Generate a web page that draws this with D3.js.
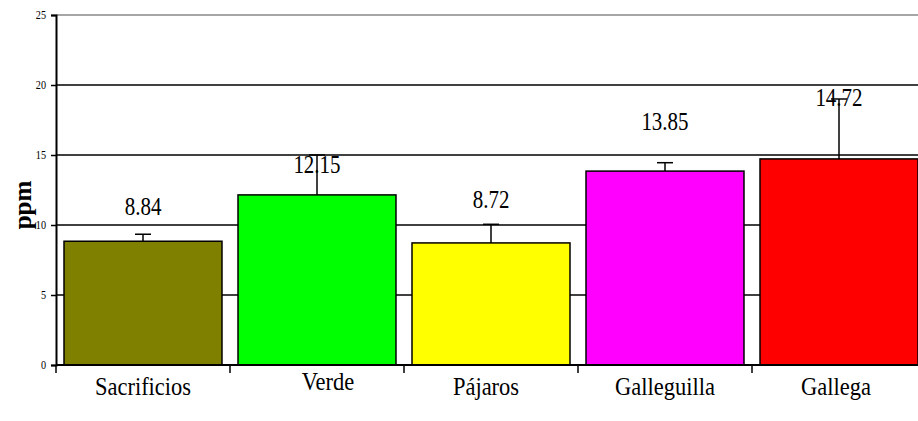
<!DOCTYPE html>
<html>
<head>
<meta charset="utf-8">
<script src="https://cdn.jsdelivr.net/npm/d3@7"></script>
<style>
  html, body { margin: 0; padding: 0; background: #fff; }
  svg { display: block; }
</style>
</head>
<body>
<svg id="chart" width="918" height="421"></svg>
<script>
// ---- data ----
const categories = ["Sacrificios", "Verde", "Pájaros", "Galleguilla", "Gallega"];
const values = [8.84, 12.15, 8.72, 13.85, 14.72];
const errors = [0.5, 2.85, 1.33, 0.6, 4.28];
const colors = ["#808000", "#00ff00", "#ffff00", "#ff00ff", "#ff0000"];
const yTicks = [0, 5, 10, 15, 20, 25];
const yTitle = "ppm";

// ---- layout ----
const FONT = "'Liberation Serif', 'Times New Roman', Tinos, serif";
const W = 918, H = 421;
const svg = d3.select("#chart");
const x = d3.scaleBand().domain(categories).range([56, 926]).paddingInner(0.092).paddingOuter(0.046);
const y = d3.scaleLinear().domain([0, 25]).range([365, 15]);
const labelLift = [26, 22, 35, 41, 53];   // px above bar top for value labels
const catDx = [0, 11, -5, 0, -3];
const catDy = [0, -5, 0, 0, 0];

// gridlines
svg.append("g").selectAll("line").data(yTicks.filter(d => d > 0)).join("line")
  .attr("x1", 56).attr("x2", W)
  .attr("y1", d => y(d)).attr("y2", d => y(d))
  .attr("stroke", d => d === 25 ? "#888" : "#000").attr("stroke-width", 1.5);

// bars
svg.append("g").selectAll("rect").data(categories).join("rect")
  .attr("x", d => x(d)).attr("width", x.bandwidth())
  .attr("y", (d, i) => y(values[i])).attr("height", (d, i) => y(0) - y(values[i]))
  .attr("fill", (d, i) => colors[i]).attr("stroke", "#000").attr("stroke-width", 1.5);

// error bars
const eg = svg.append("g").attr("stroke", "#000").attr("stroke-width", 1.5);
categories.forEach((c, i) => {
  const cx = x(c) + x.bandwidth() / 2;
  eg.append("line").attr("x1", cx).attr("x2", cx).attr("y1", y(values[i])).attr("y2", y(values[i] + errors[i]));
  eg.append("line").attr("x1", cx - 8).attr("x2", cx + 8).attr("y1", y(values[i] + errors[i])).attr("y2", y(values[i] + errors[i]));
});

// y axis
const yAxis = d3.axisLeft(y).tickValues(yTicks).tickSize(5).tickPadding(4).tickFormat(d3.format("d"));
const ya = svg.append("g").attr("transform", "translate(56,0)").call(yAxis);
ya.attr("font-family", null);
ya.select(".domain").attr("stroke", "#000").attr("stroke-width", 2);
ya.selectAll(".tick line").attr("stroke", "#000").attr("stroke-width", 1.5);
ya.selectAll(".tick text").style("font-family", FONT).attr("font-size", 12).attr("fill", "#000")
  .attr("transform", "scale(0.85,1)").attr("x", -10 / 0.85);

// x axis
const xa = svg.append("g").attr("transform", `translate(0,${y(0)})`);
xa.append("line").attr("x1", 56).attr("x2", W).attr("y1", 0).attr("y2", 0).attr("stroke", "#000").attr("stroke-width", 2);
const bounds = categories.map(c => x(c) - x.step() * x.paddingInner() / 2);
xa.selectAll("line.t").data(bounds).join("line").attr("class", "t")
  .attr("x1", d => d).attr("x2", d => d).attr("y1", 0).attr("y2", 8)
  .attr("stroke", "#000").attr("stroke-width", 1.5);

// category labels (condensed, like the original)
const SXC = 0.9, SXV = 0.84;
svg.append("g").selectAll("text").data(categories).join("text")
  .attr("transform", (d, i) => `translate(${x(d) + x.bandwidth() / 2 + catDx[i]},${395 + catDy[i]}) scale(${SXC},1)`)
  .attr("text-anchor", "middle").attr("font-size", 25)
  .style("font-family", FONT).attr("fill", "#000")
  .text(d => d);

// value labels
svg.append("g").selectAll("text").data(categories).join("text")
  .attr("transform", (d, i) => `translate(${x(d) + x.bandwidth() / 2},${y(values[i]) - labelLift[i]}) scale(${SXV},1)`)
  .attr("text-anchor", "middle").attr("font-size", 25)
  .style("font-family", FONT).attr("fill", "#000")
  .text((d, i) => values[i].toFixed(2));

// y title
svg.append("text").attr("transform", "translate(31,205) rotate(-90)")
  .attr("text-anchor", "middle").attr("font-size", 25).attr("font-weight", "bold")
  .style("font-family", FONT).attr("fill", "#000")
  .text(yTitle);
</script>
</body>
</html>
